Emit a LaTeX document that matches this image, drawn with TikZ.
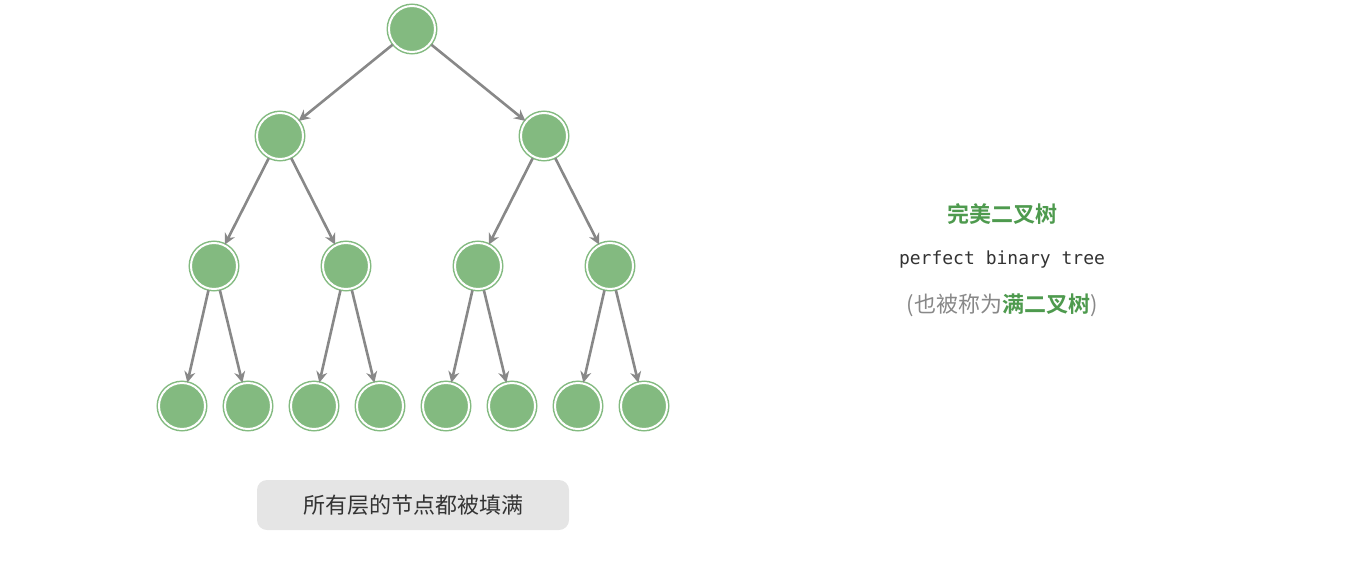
\documentclass[tikz,border=0pt]{standalone}
\usepackage{fontspec}
\setmainfont{Noto Sans CJK SC}
\newfontfamily\cjkb{Noto Sans CJK SC Bold}
\setmonofont{DejaVu Sans Mono}
\usetikzlibrary{arrows.meta}
\definecolor{nodegreen}{HTML}{83BA80}
\definecolor{titlegreen}{HTML}{4E9A4E}
\definecolor{edgegray}{HTML}{888888}
\definecolor{boxgray}{HTML}{E5E5E5}
\tikzset{
  tn/.style={circle,fill=nodegreen,draw=white,line width=2,minimum size=46,inner sep=0,
    append after command={\pgfextra{\draw[nodegreen,line width=2] (\tikzlastnode.center) circle (24.5);}}},
  ed/.style={draw=edgegray,line width=2.6,-{Stealth[length=11,width=11]},shorten <=1,shorten >=0}
}
\begin{document}
\begin{tikzpicture}[x=1pt,y=-1pt]
\useasboundingbox (0,0) rectangle (1364,575);
\node[tn] (r) at (412,29) {};
\node[tn] (a) at (280,136) {};
\node[tn] (b) at (544,136) {};
\node[tn] (c1) at (214,266) {};
\node[tn] (c2) at (346,266) {};
\node[tn] (c3) at (478,266) {};
\node[tn] (c4) at (610,266) {};
\node[tn] (d1) at (182,406) {};
\node[tn] (d2) at (248,406) {};
\node[tn] (d3) at (314,406) {};
\node[tn] (d4) at (380,406) {};
\node[tn] (d5) at (446,406) {};
\node[tn] (d6) at (512,406) {};
\node[tn] (d7) at (578,406) {};
\node[tn] (d8) at (644,406) {};
\foreach \p/\q in {r/a,r/b,a/c1,a/c2,b/c3,b/c4,c1/d1,c1/d2,c2/d3,c2/d4,c3/d5,c3/d6,c4/d7,c4/d8}
  \draw[ed] (\p) -- (\q);
\node[fill=boxgray,rounded corners=10,minimum width=312,minimum height=50,inner sep=0,
  font=\fontsize{22}{26}\selectfont,text=black!80] (lab) at (413,505) {所有层的节点都被填满};
\node[font=\cjkb\fontsize{22}{26}\selectfont,text=titlegreen] (t1) at (1002,214) {完美二叉树};
\node[font=\ttfamily\fontsize{18}{22}\selectfont,text=black!80] (t2) at (1002,260) {perfect binary tree};
\node[font=\fontsize{22}{26}\selectfont,text=edgegray] (t3) at (1002,305) {(也被称为{\cjkb\color{titlegreen}满二叉树})};
\end{tikzpicture}
\end{document}
